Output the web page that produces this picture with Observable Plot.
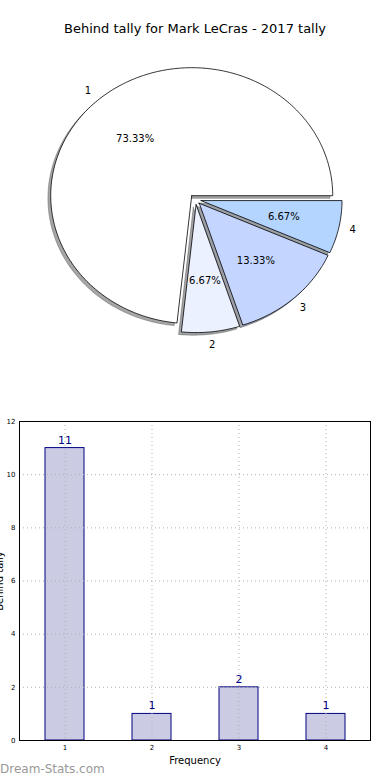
<!DOCTYPE html>
<html>
<head>
<meta charset="utf-8">
<script src="https://cdn.jsdelivr.net/npm/d3@7"></script>
<script src="https://cdn.jsdelivr.net/npm/@observablehq/plot@0.6"></script>
<style>
  html, body { margin: 0; padding: 0; background: #fff; width: 390px; height: 780px; overflow: hidden; }
  #wrap { position: relative; width: 390px; height: 780px; font-family: "DejaVu Sans", sans-serif; }
  #title { position: absolute; top: 21px; left: 0; width: 390px; text-align: center; font-size: 13px; color: #000; }
  #pie { position: absolute; top: 0; left: 0; }
  #bar { position: absolute; top: 400px; left: 0; }
  #wm { position: absolute; top: 762px; left: 0; font-size: 12px; color: #999; }
</style>
</head>
<body>
<div id="wrap">
  <div id="pie"></div>
  <div id="title">Behind tally for Mark LeCras - 2017 tally</div>
  <div id="bar"></div>
  <div id="wm">Dream-Stats.com</div>
</div>
<script>
// ---- data ----
const categories = ["1", "2", "3", "4"];
const counts = [11, 1, 2, 1];
const sliceColors = ["#ffffff", "#ebf1ff", "#c4d6ff", "#b3d5ff"];
const yTicks = [0, 2, 4, 6, 8, 10, 12];
const chartTitle = "Behind tally for Mark LeCras - 2017 tally";
const xLabel = "Frequency";
const yLabel = "Behind tally";

// ---- pie geometry (unit circle data space) ----
const total = d3.sum(counts);
const explode = 0.04;
const polys = [];
const labels = [];
let a = 0;
categories.forEach((c, i) => {
  const span = counts[i] / total * 2 * Math.PI;
  const a0 = a, a1 = a + span;
  const mid = (a0 + a1) / 2;
  const ox = explode * Math.cos(mid), oy = explode * Math.sin(mid);
  const pts = [{slice: c, x: ox, y: oy}];
  const steps = Math.max(4, Math.ceil(span / (Math.PI / 180)));
  for (let k = 0; k <= steps; k++) {
    const t = a0 + span * k / steps;
    pts.push({slice: c, x: ox + Math.cos(t), y: oy + Math.sin(t)});
  }
  pts.push({slice: c, x: ox, y: oy});
  const face = d3.rgb(sliceColors[i]);
  const sh = d3.rgb(face.r * 0.3, face.g * 0.3, face.b * 0.3).formatHex();
  pts.forEach(p => { p.color = sliceColors[i]; p.shadow = sh; });
  polys.push(...pts);
  const lx = ox + 1.1 * Math.cos(mid), ly = oy + 1.1 * Math.sin(mid);
  labels.push({
    name: c,
    lx, ly,
    anchor: lx > 0 ? "start" : "end",
    px: ox + 0.6 * Math.cos(mid), py: oy + 0.6 * Math.sin(mid),
    pct: (counts[i] / total * 100).toFixed(2) + "%"
  });
  a = a1;
});

const pie = Plot.plot({
  width: 390, height: 390,
  margin: 0,
  x: {domain: [-1, 1], range: [54, 336], axis: null},
  y: {domain: [-1, 1], range: [327, 71], axis: null},
  color: {type: "identity"},
  style: {fontFamily: "DejaVu Sans", fontSize: "10px", background: "transparent"},
  marks: [
    Plot.line(polys, {x: "x", y: "y", z: "slice", fill: "shadow", stroke: "shadow", strokeWidth: 0.8, fillOpacity: 0.5, strokeOpacity: 0.5, dx: -2.8, dy: 2.6, curve: "linear"}),
    Plot.line(polys, {x: "x", y: "y", z: "slice", fill: "color", stroke: "black", strokeWidth: 0.8, curve: "linear"}),
    Plot.text(labels, {x: "lx", y: "ly", text: "name", textAnchor: "anchor", fill: "black", fontSize: 10}),
    Plot.text(labels, {x: "px", y: "py", text: "pct", fill: "black", fontSize: 10})
  ]
});
document.getElementById("pie").append(pie);

// ---- bar chart ----
const barData = categories.map((c, i) => ({cat: c, n: counts[i]}));
const bar = Plot.plot({
  width: 390, height: 380,
  marginTop: 21, marginBottom: 40, marginLeft: 19, marginRight: 20,
  x: {domain: categories, paddingInner: 0.555, paddingOuter: 0.28, label: null},
  y: {domain: [0, 12], ticks: yTicks, label: null},
  style: {fontFamily: "DejaVu Sans", fontSize: "7px", background: "white", color: "black"},
  marks: [
    Plot.barY(barData, {x: "cat", y: "n", fill: "#cbcce4", stroke: "#000080", strokeWidth: 1}),
    Plot.ruleY(yTicks, {stroke: "#b0b0b0", strokeDasharray: "1,3"}),
    Plot.ruleX(categories, {x: d => d, stroke: "#b0b0b0", strokeDasharray: "1,3"}),
    Plot.text(barData, {x: "cat", y: "n", text: d => String(d.n), dy: -8, fill: "#000080", fontSize: 11}),
    Plot.frame({stroke: "black", strokeWidth: 1}),
    Plot.axisX({tickSize: 0, tickPadding: 5, fontSize: 7, label: null}),
    Plot.axisY({ticks: yTicks, tickSize: 0, tickPadding: 4, fontSize: 7, label: null, tickFormat: d => String(d)}),
    Plot.text([xLabel], {frameAnchor: "bottom", dy: 20, fontSize: 10, lineAnchor: "middle"}),
    Plot.text([yLabel], {frameAnchor: "left", rotate: -90, dx: -17, fontSize: 10, textAnchor: "middle", lineAnchor: "bottom"})
  ]
});
document.getElementById("bar").append(bar);
</script>
</body>
</html>
